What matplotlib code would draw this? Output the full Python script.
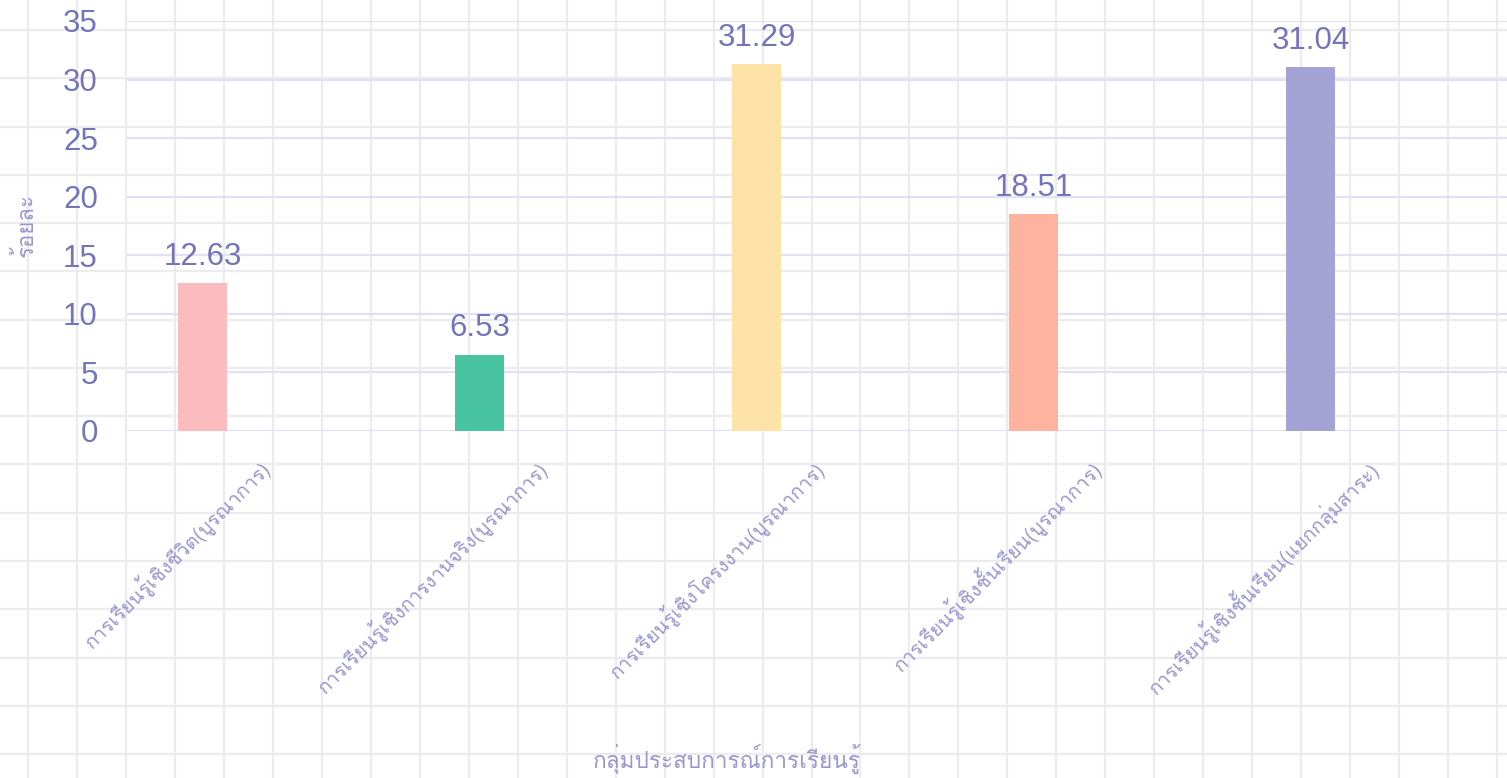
import matplotlib
matplotlib.use("Agg")
import matplotlib.pyplot as plt
import numpy as np
from matplotlib.transforms import ScaledTranslation

categories = [
    "การเรียนรู้เชิงชีวิต(บูรณาการ)",
    "การเรียนรู้เชิงการงานจริง(บูรณาการ)",
    "การเรียนรู้เชิงโครงงาน(บูรณาการ)",
    "การเรียนรู้เชิงชั้นเรียน(บูรณาการ)",
    "การเรียนรู้เชิงชั้นเรียน(แยกกลุ่มสาระ)",
]
values = [12.63, 6.53, 31.29, 18.51, 31.04]
bar_colors = ["#fbbcbf", "#48c4a0", "#fde3a7", "#feb3a0", "#a3a3d6"]
y_ticks = [0, 5, 10, 15, 20, 25, 30, 35]
x_title = "กลุ่มประสบการณ์การเรียนรู้"
y_title = "ร้อยละ"

thai = ["Loma", "DejaVu Sans"]
num = ["Liberation Sans", "DejaVu Sans"]
txt_col = "#7474b8"
lab_col = "#9898ce"

W, H = 1507, 778
fig = plt.figure(figsize=(W / 100, H / 100), dpi=100)
fig.patch.set_facecolor("white")

# page grid behind everything
bg = fig.add_axes([0, 0, 1, 1], zorder=0)
bg.set_xlim(0, W)
bg.set_ylim(H, 0)
bg.axis("off")
for gx in np.arange(28, W, 48.97):
    bg.axvline(gx, color="#ececee", lw=1.6)
for gy in np.arange(30, H, 48.27):
    bg.axhline(gy, color="#ececee", lw=1.6)

ax = fig.add_axes([127 / W, 1 - 431 / H, 1 - 127 / W, 410 / H], zorder=1)
ax.patch.set_alpha(0)
x = np.arange(len(values))
ax.bar(x, values, width=0.177, color=bar_colors, zorder=3)
ax.set_xlim(-0.274, 4.708)
ax.set_ylim(0, 35)
ax.set_yticks(y_ticks)
ax.yaxis.grid(True, color="#e2e1f2", lw=1.6, zorder=1)
ax.set_axisbelow(True)
for s in ax.spines.values():
    s.set_visible(False)
ax.tick_params(axis="y", length=0, pad=21, labelsize=22.5, labelcolor=txt_col)
for t in ax.get_yticklabels():
    t.set_family(num)

for xi, v in zip(x, values):
    ax.annotate(f"{v:.2f}", (xi, v), xytext=(0, 13), textcoords="offset points",
                ha="center", va="baseline", fontsize=22.5, color=txt_col,
                family=num)

ax.set_xticks(x)
ax.set_xticklabels(categories, rotation=45, ha="right", va="center",
                   rotation_mode="anchor", fontsize=14.3, color=lab_col, family=thai)
ax.tick_params(axis="x", length=0, pad=0)
off = ScaledTranslation(46 / 72, -24 / 72, fig.dpi_scale_trans)
for t in ax.get_xticklabels():
    t.set_transform(t.get_transform() + off)

fig.text(727 / W, 1 - 768 / H, x_title, ha="center", va="baseline",
         fontsize=16.3, color=lab_col, family=thai)
fig.text(26 / W, 1 - 225 / H, y_title, ha="center", va="center", rotation=90,
         fontsize=16, color=lab_col, family=thai)

fig.savefig("out.png", dpi=100)
